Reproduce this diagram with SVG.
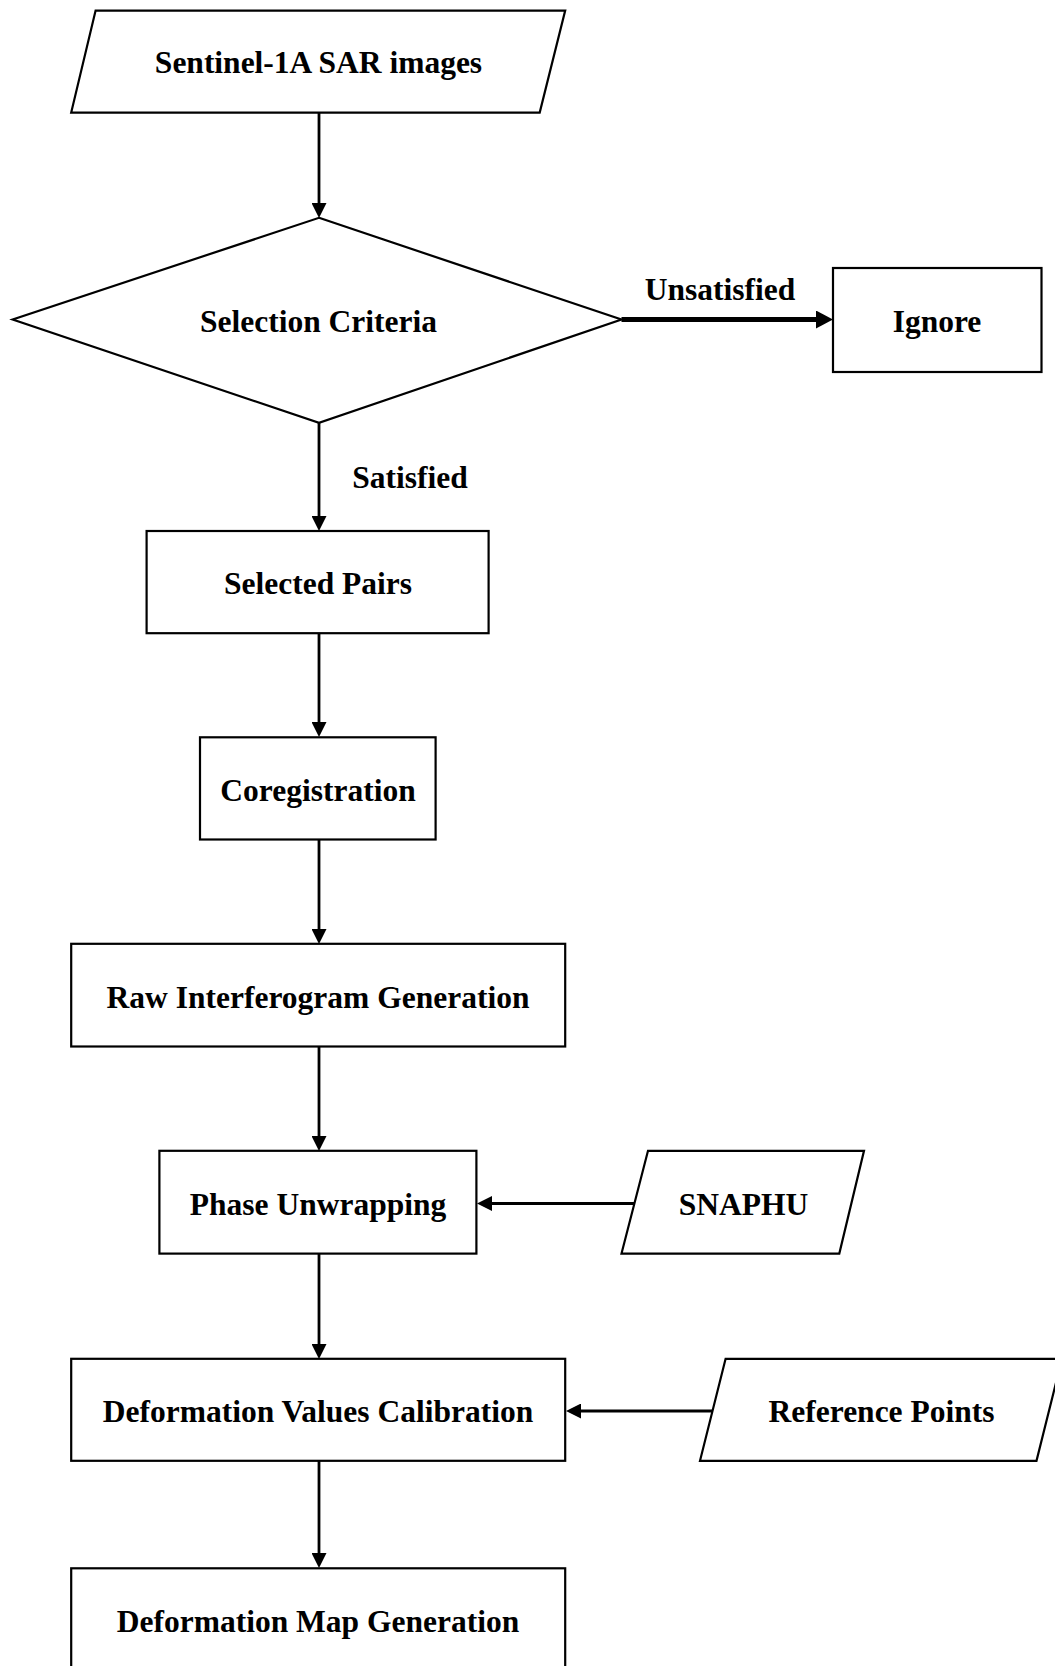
<svg xmlns="http://www.w3.org/2000/svg" width="1055" height="1666" viewBox="0 0 1055 1666">
  <style>
    .shape { fill: #ffffff; stroke: #000000; stroke-width: 2.2; }
    .lbl { font-family: "Liberation Serif", "Times New Roman", serif; font-weight: bold; font-size: 31.5px; fill: #000000; text-anchor: middle; }
    .conn { stroke: #000000; stroke-width: 2.8; fill: none; }
    .thick { stroke: #000000; stroke-width: 5; fill: none; }
  </style>
  <defs>
    <marker id="arr" markerUnits="userSpaceOnUse" markerWidth="15" markerHeight="15" viewBox="0 0 15 15" refX="1" refY="7.5" orient="auto">
      <path d="M0,0 L15,7.5 L0,15 z" fill="#000000"/>
    </marker>
    <marker id="arrBig" markerUnits="userSpaceOnUse" markerWidth="17" markerHeight="18" viewBox="0 0 17 18" refX="1" refY="9" orient="auto">
      <path d="M0,0 L17,9 L0,18 z" fill="#000000"/>
    </marker>
  </defs>
  <rect x="0" y="0" width="1055" height="1666" fill="#ffffff"/>

  <g id="connectors">
    <line class="conn" x1="319" y1="112.6" x2="319" y2="204" marker-end="url(#arr)"/>
    <line class="conn" x1="319" y1="422.8" x2="319" y2="517" marker-end="url(#arr)"/>
    <line class="conn" x1="319" y1="633.2" x2="319" y2="723" marker-end="url(#arr)"/>
    <line class="conn" x1="319" y1="839.5" x2="319" y2="930" marker-end="url(#arr)"/>
    <line class="conn" x1="319" y1="1046.5" x2="319" y2="1137" marker-end="url(#arr)"/>
    <line class="conn" x1="319" y1="1253.6" x2="319" y2="1345" marker-end="url(#arr)"/>
    <line class="conn" x1="319" y1="1460.8" x2="319" y2="1554" marker-end="url(#arr)"/>
    <line class="thick" x1="621.5" y1="319.5" x2="817" y2="319.5" marker-end="url(#arrBig)"/>
    <line class="conn" x1="635" y1="1203.5" x2="491" y2="1203.5" marker-end="url(#arr)"/>
    <line class="conn" x1="712" y1="1411" x2="580" y2="1411" marker-end="url(#arr)"/>
    <text class="lbl" x="720" y="300">Unsatisfied</text>
    <text class="lbl" x="410" y="488">Satisfied</text>
  </g>

  <g id="sentinel">
    <polygon class="shape" points="95.6,10.6 565.2,10.6 539.7,112.6 71.2,112.6"/>
    <text class="lbl" x="318.5" y="72.5">Sentinel-1A SAR images</text>
  </g>

  <g id="selection-criteria">
    <polygon class="shape" points="319,217.8 621.5,319.5 319,422.8 12.7,319.5"/>
    <text class="lbl" x="318.5" y="331.5">Selection Criteria</text>
  </g>

  <g id="ignore">
    <rect class="shape" x="833" y="268" width="208.5" height="104"/>
    <text class="lbl" x="937" y="331.5">Ignore</text>
  </g>

  <g id="selected-pairs">
    <rect class="shape" x="146.6" y="531" width="342" height="102.2"/>
    <text class="lbl" x="318" y="594">Selected Pairs</text>
  </g>

  <g id="coregistration">
    <rect class="shape" x="200" y="737.3" width="235.6" height="102.2"/>
    <text class="lbl" x="318" y="801">Coregistration</text>
  </g>

  <g id="raw-interferogram">
    <rect class="shape" x="71.2" y="943.8" width="494" height="102.7"/>
    <text class="lbl" x="318" y="1008">Raw Interferogram Generation</text>
  </g>

  <g id="phase-unwrapping">
    <rect class="shape" x="159.4" y="1150.8" width="317" height="102.8"/>
    <text class="lbl" x="318" y="1215">Phase Unwrapping</text>
  </g>

  <g id="snaphu">
    <polygon class="shape" points="648,1150.8 864,1150.8 839.3,1253.6 621.5,1253.6"/>
    <text class="lbl" x="743.5" y="1215">SNAPHU</text>
  </g>

  <g id="deformation-calibration">
    <rect class="shape" x="71.2" y="1358.8" width="494" height="102"/>
    <text class="lbl" x="318" y="1422">Deformation Values Calibration</text>
  </g>

  <g id="reference-points">
    <polygon class="shape" points="725.6,1358.8 1062,1358.8 1036.5,1460.8 700,1460.8"/>
    <text class="lbl" x="881.5" y="1422">Reference Points</text>
  </g>

  <g id="deformation-map">
    <rect class="shape" x="71.2" y="1568.3" width="494" height="104"/>
    <text class="lbl" x="318" y="1632">Deformation Map Generation</text>
  </g>
</svg>
